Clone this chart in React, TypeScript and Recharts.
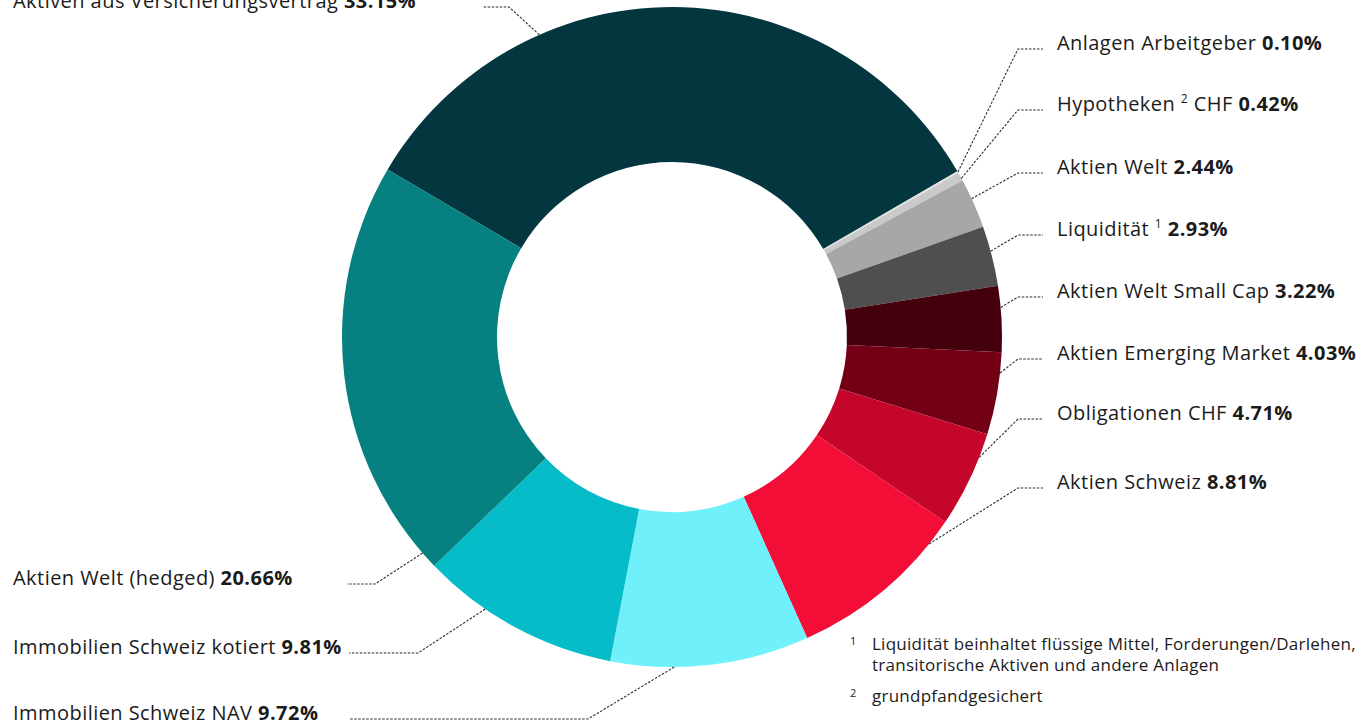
import { PieChart, Pie, Cell } from "recharts";

// Anlagestrategie – Anteile in %
const names = [
  "Aktiven aus Versicherungsvertrag",
  "Anlagen Arbeitgeber",
  "Hypotheken {2} CHF",
  "Aktien Welt",
  "Liquidität {1}",
  "Aktien Welt Small Cap",
  "Aktien Emerging Market",
  "Obligationen CHF",
  "Aktien Schweiz",
  "Immobilien Schweiz NAV",
  "Immobilien Schweiz kotiert",
  "Aktien Welt (hedged)",
];
const shares = [33.15, 0.1, 0.42, 2.44, 2.93, 3.22, 4.03, 4.71, 8.81, 9.72, 9.81, 20.66];
const colors = [
  "#03363f",
  "#e0e0e0",
  "#c9c9c9",
  "#a7a7a7",
  "#4f4f4f",
  "#45000e",
  "#730014",
  "#c5062b",
  "#f20e37",
  "#70f0fa",
  "#06bcc9",
  "#068080",
];
const footnotes = [
  ["1", "Liquidität beinhaltet flüssige Mittel, Forderungen/Darlehen,", "transitorische Aktiven und andere Anlagen"],
  ["2", "grundpfandgesichert"],
];

const data = names.map((name, i) => ({ name, value: shares[i] }));

// label layout: where the text sits and where along the slice the leader line touches
const labelLayout = [
  { side: "left", x: 13, y: 8, hx: 483, ex: 509, at: 0.3 },
  { side: "right", x: 1057, y: 50, at: 0.5 },
  { side: "right", x: 1057, y: 111, at: 0.7 },
  { side: "right", x: 1057, y: 174, at: 0.4 },
  { side: "right", x: 1057, y: 236, at: 0.42 },
  { side: "right", x: 1057, y: 298, at: 0.33 },
  { side: "right", x: 1057, y: 360, at: 0.25 },
  { side: "right", x: 1057, y: 420, at: 0.25 },
  { side: "right", x: 1057, y: 489, at: 0.15 },
  { side: "left", x: 13, y: 720, hx: 350, ex: 588, at: 0.68 },
  { side: "left", x: 13, y: 654, hx: 349, ex: 418, at: 0.67 },
  { side: "left", x: 13, y: 585, hx: 347, ex: 375, at: 0.04 },
];

const RAD = Math.PI / 180;
const FONT = "'Open Sans', Lato, sans-serif";
const TEXT = "#1b1b1b";
const SUP = 8;

function LabelText({ name, value, x, y }: { name: string; value: number; x: number; y: number }) {
  // "{n}" in a name marks a footnote number set as superscript
  const parts = name.split(/\{(\d)\}/).filter((p) => p !== "");
  const segs: { text: string; sup: boolean; dy: number }[] = [];
  let raised = false;
  name.split(/\{(\d)\}/).forEach((p, i) => {
    if (p === "") return;
    const sup = i % 2 === 1;
    const dy = sup && !raised ? -SUP : !sup && raised ? SUP : 0;
    raised = sup;
    segs.push({ text: sup ? " " + p : p, sup, dy });
  });
  void parts;
  return (
    <text x={x} y={y} fontFamily={FONT} fontSize={20} letterSpacing={0.45} fill={TEXT}>
      {segs.map((s, i) => (
        <tspan key={i} dy={s.dy} fontSize={s.sup ? 12 : undefined}>
          {s.text}
        </tspan>
      ))}
      <tspan fontWeight={700} dy={raised ? SUP : 0}>
        {" " + value.toFixed(2) + "%"}
      </tspan>
    </text>
  );
}

function renderLabel(props: any) {
  const { cx, cy, outerRadius, startAngle, endAngle, index, name, value } = props;
  const l = labelLayout[index];
  const a = startAngle + l.at * (endAngle - startAngle);
  const px = cx + Math.cos(-a * RAD) * outerRadius;
  const py = cy + Math.sin(-a * RAD) * outerRadius;
  const ly = l.y - 1;
  const pts =
    l.side === "right"
      ? `${px},${py} 1018,${ly} 1043,${ly}`
      : `${px},${py} ${l.ex},${ly} ${l.hx},${ly}`;
  return (
    <g key={"lbl" + index}>
      <polyline points={pts} fill="none" stroke="#2e2e2e" strokeWidth={1.1} strokeDasharray="2.5 1.5" />
      <LabelText name={name} value={value} x={l.x} y={l.y} />
    </g>
  );
}

export default function App() {
  return (
    <div style={{ position: "absolute", left: 0, top: 0, width: 1361, height: 725, background: "#fff" }}>
      <PieChart width={1361} height={725} margin={{ top: 0, right: 0, bottom: 0, left: 0 }}>
        <Pie
          data={data}
          dataKey="value"
          nameKey="name"
          cx={672}
          cy={337}
          innerRadius={175}
          outerRadius={330}
          startAngle={149.5}
          endAngle={-210.5}
          stroke="none"
          label={renderLabel}
          labelLine={false}
          isAnimationActive={false}
        >
          {data.map((d, i) => (
            <Cell key={d.name} fill={colors[i]} />
          ))}
        </Pie>
      </PieChart>
      <div
        style={{
          position: "absolute",
          left: 850,
          top: 633,
          fontFamily: FONT,
          fontSize: 17,
          letterSpacing: 0.25,
          lineHeight: "21px",
          color: TEXT,
        }}
      >
        {footnotes.map((f) => (
          <div key={f[0]} style={{ display: "flex", marginBottom: 10 }}>
            <span style={{ width: 22, fontSize: 11, lineHeight: "16px" }}>{f[0]}</span>
            <span>
              {f.slice(1).map((t) => (
                <div key={t}>{t}</div>
              ))}
            </span>
          </div>
        ))}
      </div>
    </div>
  );
}
